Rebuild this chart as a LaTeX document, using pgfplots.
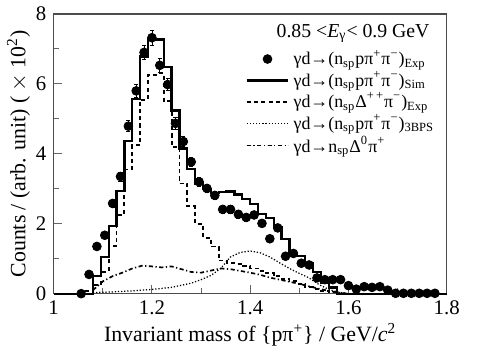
\documentclass[border=0pt]{standalone}
\usepackage{pgfplots}
\pgfplotsset{compat=1.18}
\usepackage{fontspec}
\setmainfont{Liberation Serif}
\begin{document}
\begin{tikzpicture}
\begin{axis}[
  scale only axis,
  width=189pt, height=134.5pt,
  xmin=1, xmax=1.8, ymin=0, ymax=8,
  xtick={1,1.2,1.4,1.6,1.8},
  xticklabels={1,1.2,1.4,1.6,1.8},
  minor x tick num=1,
  ytick={0,2,4,6,8},
  minor y tick num=1,
  xtick pos=left, ytick pos=left,
  tick align=inside,
  major tick length=4pt, minor tick length=2.5pt,
  tick style={black!60, line width=0.5pt},
  axis line style={black!70, line width=0.6pt},
  /pgf/number format/assume math mode=true,
  tick label style={font=\fontsize{10}{12}\selectfont},
  xlabel={Invariant mass of \{pπ\textsuperscript{+}\} / GeV/\textit{c}\textsuperscript{2}},
  ylabel={Counts / (arb. unit) ( $\times$ 10\textsuperscript{2})},
  label style={font=\fontsize{10.5}{12}\selectfont},
  xlabel style={yshift=3pt},
  ylabel style={yshift=-4pt},
  legend style={draw=none, fill=none, at={(0.985,0.895)}, anchor=north east,
    font=\fontsize{8.6}{10}\selectfont, row sep=-2.4pt, inner sep=1pt},
  legend cell align=left,
  legend image code/.code={\draw[mark repeat=2,mark phase=2,#1] plot coordinates {(0pt,0pt)(10pt,0pt)(20pt,0pt)};},
  clip=false,
]
% Exp data points
\addplot[only marks, mark=*, mark size=2.1pt, black,
  error bars/.cd, y dir=both, y explicit, error bar style={black, line width=0.4pt}, error mark options={rotate=90, mark size=1pt}]
  coordinates {
  (1.056,0.00) +- (0,0.02)
  (1.072,0.55) +- (0,0.05)
  (1.088,1.35) +- (0,0.08)
  (1.104,1.67) +- (0,0.09)
  (1.120,2.58) +- (0,0.12)
  (1.136,3.35) +- (0,0.13)
  (1.152,4.79) +- (0,0.16)
  (1.168,5.80) +- (0,0.18)
  (1.184,6.90) +- (0,0.19)
  (1.200,7.32) +- (0,0.21)
  (1.216,6.53) +- (0,0.19)
  (1.232,5.98) +- (0,0.18)
  (1.248,4.87) +- (0,0.16)
  (1.264,4.35) +- (0,0.15)
  (1.280,3.77) +- (0,0.14)
  (1.296,3.20) +- (0,0.13)
  (1.312,3.01) +- (0,0.12)
  (1.328,2.81) +- (0,0.12)
  (1.344,2.41) +- (0,0.11)
  (1.360,2.41) +- (0,0.11)
  (1.376,2.27) +- (0,0.11)
  (1.392,2.18) +- (0,0.10)
  (1.408,2.25) +- (0,0.10)
  (1.424,2.01) +- (0,0.10)
  (1.440,1.57) +- (0,0.09)
  (1.456,1.88) +- (0,0.09)
  (1.472,1.07) +- (0,0.07)
  (1.488,1.15) +- (0,0.07)
  (1.504,0.87) +- (0,0.06)
  (1.520,0.82) +- (0,0.06)
  (1.536,0.45) +- (0,0.05)
  (1.552,0.40) +- (0,0.05)
  (1.568,0.40) +- (0,0.05)
  (1.584,0.40) +- (0,0.05)
  (1.600,0.23) +- (0,0.04)
  (1.616,0.13) +- (0,0.03)
  (1.632,0.20) +- (0,0.03)
  (1.648,0.18) +- (0,0.03)
  (1.664,0.20) +- (0,0.03)
  (1.680,0.10) +- (0,0.02)
  (1.696,0.01) +- (0,0.01)
  (1.712,0.01) +- (0,0.01)
  (1.728,0.01) +- (0,0.01)
  (1.744,0.01) +- (0,0.01)
  (1.760,0.01) +- (0,0.01)
  (1.776,0.01) +- (0,0.01)
  };
\addlegendentry{γd→(n\textsubscript{sp}pπ\textsuperscript{+}π\textsuperscript{−})\textsubscript{Exp}}
% Sim histogram
\addplot[const plot, black, line width=1.1pt, mark=none]
  coordinates {
  (1.000,0) (1.080,0.5) (1.096,1.05) (1.112,1.94) (1.128,2.94) (1.144,4.37)
  (1.160,5.56) (1.176,6.78) (1.192,7.27) (1.208,7.27) (1.224,6.48) (1.240,5.24)
  (1.256,4.15) (1.272,3.57) (1.288,3.15) (1.304,3.00) (1.320,2.88) (1.336,2.90)
  (1.352,2.92) (1.368,2.84) (1.384,2.71) (1.400,2.56) (1.416,2.28) (1.432,2.16)
  (1.448,1.91) (1.464,1.57) (1.480,1.17) (1.496,1.07) (1.512,0.87) (1.528,0.625)
  (1.544,0.30) (1.560,0.18) (1.576,0) (1.800,0)
  };
\addlegendentry{γd→(n\textsubscript{sp}pπ\textsuperscript{+}π\textsuperscript{−})\textsubscript{Sim}}
% Delta++ pi- (dashed)
\addplot[const plot, black, line width=0.9pt, dash pattern=on 2pt off 1.5pt, mark=none]
  coordinates {
  (1.064,0.08) (1.080,0.25) (1.096,0.63) (1.112,1.37) (1.128,2.26) (1.144,3.55)
  (1.160,4.25) (1.176,5.55) (1.192,6.25) (1.208,6.30) (1.224,5.50) (1.240,4.20)
  (1.256,3.15) (1.272,2.50) (1.288,2.00) (1.304,1.60) (1.320,1.35) (1.336,0.95)
  (1.352,0.88) (1.368,0.85) (1.384,0.78) (1.400,0.72) (1.416,0.65) (1.432,0.58)
  (1.448,0.50) (1.464,0.42) (1.480,0.35) (1.496,0.28) (1.512,0.20) (1.528,0.14)
  (1.544,0.08) (1.560,0.04) (1.576,0.0)
  };
\addlegendentry{γd→(n\textsubscript{sp}Δ\textsuperscript{+\,+}π\textsuperscript{−})\textsubscript{Exp}}
% 3BPS (dotted)
\addplot[black, line width=0.6pt, dash pattern=on 0.6pt off 0.9pt, mark=none]
  coordinates {
  (1.080,0.03) (1.120,0.05) (1.160,0.08) (1.200,0.12) (1.240,0.18) (1.280,0.30)
  (1.300,0.40) (1.320,0.52) (1.340,0.72) (1.360,1.05) (1.380,1.18) (1.400,1.22)
  (1.420,1.17) (1.440,1.05) (1.460,0.88) (1.480,0.72) (1.500,0.58) (1.520,0.45)
  (1.540,0.26) (1.560,0.12) (1.580,0.04) (1.600,0.0)
  };
\addlegendentry{γd→(n\textsubscript{sp}pπ\textsuperscript{+}π\textsuperscript{−})\textsubscript{3BPS}}
% Delta0 pi+ (dash-dot)
\addplot[black, line width=0.8pt, dash pattern=on 2pt off 1.2pt on 0.6pt off 1.2pt, mark=none]
  coordinates {
  (1.080,0.10) (1.100,0.35) (1.120,0.50) (1.140,0.60) (1.160,0.72) (1.180,0.80)
  (1.200,0.78) (1.220,0.75) (1.240,0.78) (1.260,0.70) (1.280,0.62) (1.300,0.60)
  (1.320,0.66) (1.340,0.72) (1.360,0.70) (1.380,0.65) (1.400,0.60) (1.420,0.54)
  (1.440,0.46) (1.460,0.40) (1.480,0.34) (1.500,0.28) (1.520,0.21) (1.540,0.14)
  (1.560,0.08) (1.580,0.03) (1.600,0.0)
  };
\addlegendentry{γd→n\textsubscript{sp}Δ\textsuperscript{0}π\textsuperscript{+}}
\node[anchor=north east, font=\fontsize{9.5}{11}\selectfont] at (rel axis cs:0.975,0.99)
  {0.85 <\textit{E}\textsubscript{γ}< 0.9 GeV};
\end{axis}
\path ([xshift=16.5pt,yshift=3.5pt]current axis.north east);
\end{tikzpicture}
\end{document}
